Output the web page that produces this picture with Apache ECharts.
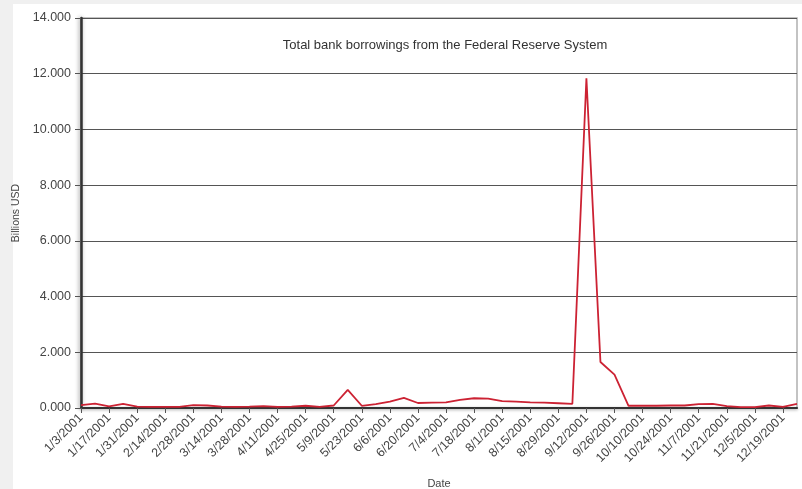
<!DOCTYPE html>
<html>
<head>
<meta charset="utf-8">
<script src="https://cdn.jsdelivr.net/npm/echarts@6/dist/echarts.min.js"></script>
<style>
html,body{margin:0;padding:0;background:#f0f0f0;}
#c{width:802px;height:489px;}
</style>
</head>
<body>
<div id="c"></div>
<script>
var dates = ["1/3/2001","1/10/2001","1/17/2001","1/24/2001","1/31/2001","2/7/2001","2/14/2001","2/21/2001","2/28/2001","3/7/2001","3/14/2001","3/21/2001","3/28/2001","4/4/2001","4/11/2001","4/18/2001","4/25/2001","5/2/2001","5/9/2001","5/16/2001","5/23/2001","5/30/2001","6/6/2001","6/13/2001","6/20/2001","6/27/2001","7/4/2001","7/11/2001","7/18/2001","7/25/2001","8/1/2001","8/8/2001","8/15/2001","8/22/2001","8/29/2001","9/5/2001","9/12/2001","9/19/2001","9/26/2001","10/3/2001","10/10/2001","10/17/2001","10/24/2001","10/31/2001","11/7/2001","11/14/2001","11/21/2001","11/28/2001","12/5/2001","12/12/2001","12/19/2001","12/26/2001"];
var borrowings = [0.100,0.160,0.060,0.150,0.050,0.040,0.040,0.040,0.100,0.090,0.050,0.040,0.050,0.070,0.040,0.050,0.080,0.040,0.090,0.650,0.080,0.140,0.230,0.360,0.180,0.190,0.200,0.290,0.350,0.340,0.250,0.230,0.200,0.190,0.170,0.150,11.840,1.650,1.200,0.080,0.080,0.080,0.090,0.090,0.140,0.150,0.070,0.030,0.030,0.090,0.040,0.150];
var yTicks = [0,2,4,6,8,10,12,14];
var titleText = "Total bank borrowings from the Federal Reserve System";

var chart = echarts.init(document.getElementById('c'), null, {renderer:'canvas'});
var font = "'Liberation Sans', Arial, sans-serif";
chart.setOption({
  backgroundColor: '#f0f0f0',
  animation: false,
  graphic: [{type:'rect', z:-10, shape:{x:13,y:4,width:789,height:485}, style:{fill:'#ffffff'}}],
  title: {text: titleText, left: 440, top: 34, textAlign: 'center',
    textStyle:{fontFamily: font, fontSize: 13, fontWeight:'normal', color:'#333'}},
  grid: {left: 81, right: 5, top: 18, bottom: 81, show: true, borderColor:'#b0b0b0', borderWidth: 1.5,
    backgroundColor:'#fff', containLabel: false, outerBoundsMode: 'none'},
  xAxis: {
    type: 'category', data: dates, boundaryGap: false,
    name: 'Date', nameLocation: 'middle', nameGap: 70,
    nameTextStyle: {fontFamily: font, fontSize: 11, color:'#444'},
    axisLine: {lineStyle:{color:'#333', width:2, shadowColor:'rgba(0,0,0,0.35)', shadowBlur:3, shadowOffsetY:1}},
    axisTick: {interval: 1, length: 5, lineStyle:{color:'#555'}},
    axisLabel: {interval: 1, rotate: 45, margin: 8, fontFamily: font, fontSize: 12.5, color:'#444'},
    splitLine: {show:false}
  },
  yAxis: {
    type: 'value', min: 0, max: 14, interval: 2,
    name: 'Billions USD', nameLocation: 'middle', nameGap: 57, nameRotate: 90,
    nameTextStyle: {fontFamily: font, fontSize: 10.5, color:'#444'},
    axisLine: {show: true, lineStyle:{color:'#333', width:2.5, shadowColor:'rgba(0,0,0,0.4)', shadowBlur:4, shadowOffsetX:-1}},
    axisTick: {show: true, length: 6, lineStyle:{color:'#555'}},
    axisLabel: {margin: 10, fontFamily: font, fontSize: 12.5, color:'#444',
      formatter: function(v){ return v.toFixed(3); }},
    splitLine: {lineStyle:{color:'#555', width:1}}
  },
  series: [{
    type: 'line', data: borrowings, showSymbol: false, symbol:'none',
    lineStyle: {color:'#cc2233', width: 1.8},
    itemStyle: {color:'#cc2233'}
  }]
});
</script>
</body>
</html>
